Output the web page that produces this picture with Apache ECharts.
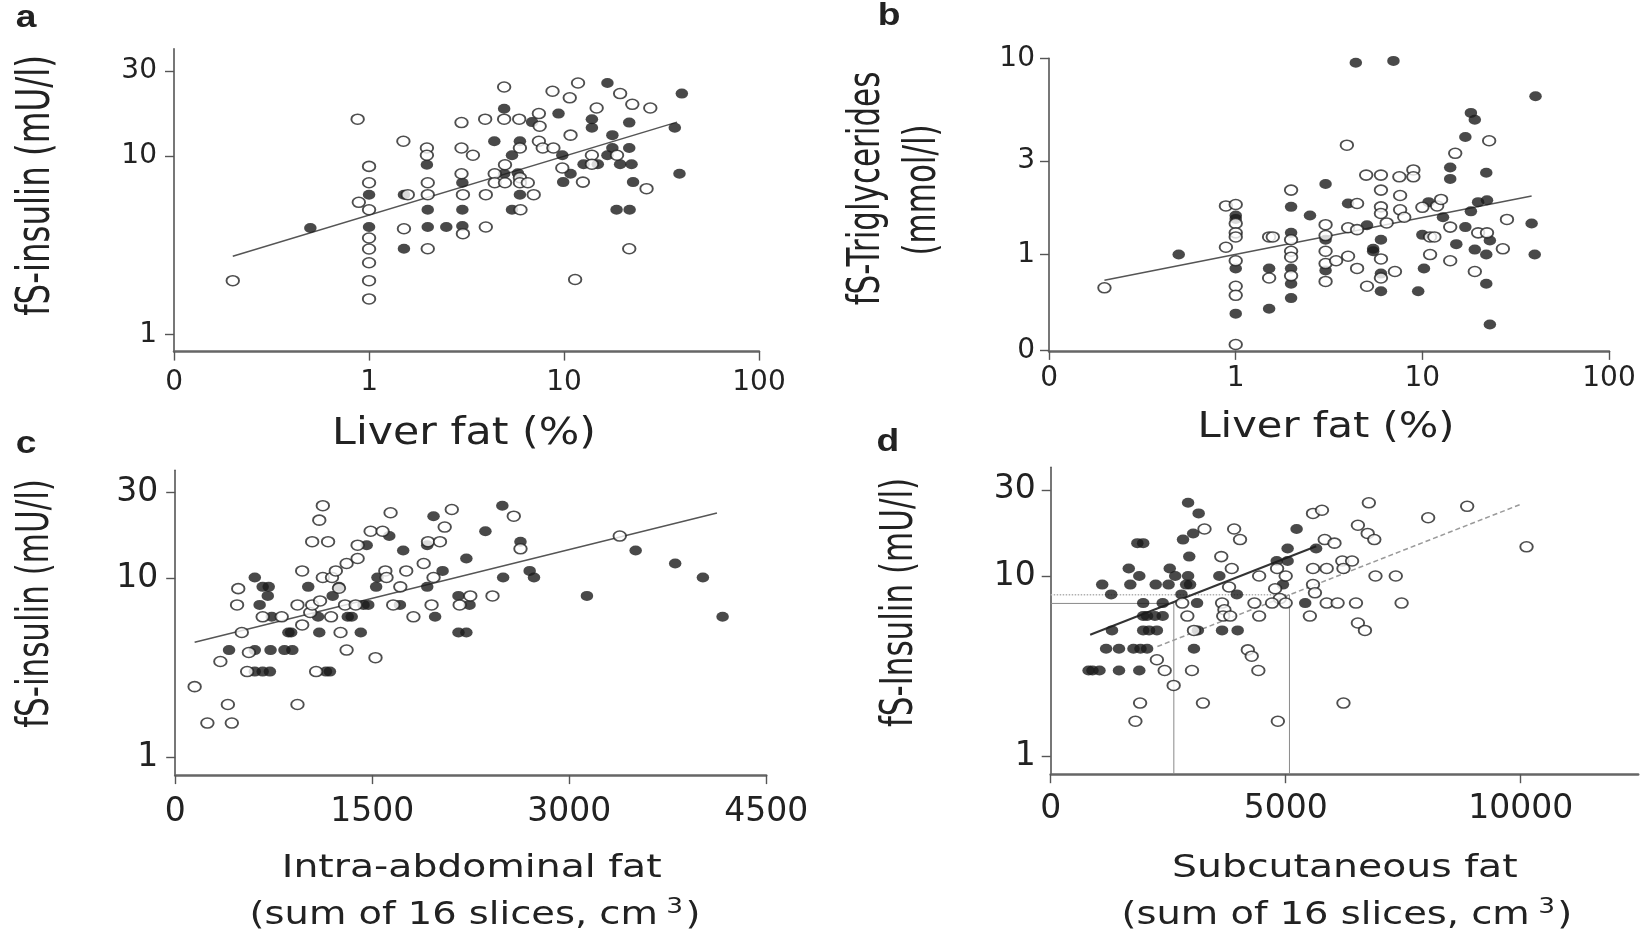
<!DOCTYPE html>
<html><head><meta charset="utf-8">
<script src="https://cdn.jsdelivr.net/npm/echarts@6/dist/echarts.min.js"></script>
<style>html,body{margin:0;padding:0;background:#fff}#c{width:1642px;height:936px}</style>
</head><body><div id="c"></div>
<script>
// ---------- Panel a: liver fat (%) vs fS-insulin (mU/l) ----------
const aXTicks = [0.1, 1, 10, 100], aXLabels = ['0', '1', '10', '100'];
const aYTicks = [1, 10, 30], aYLabels = ['1', '10', '30'];
const aFilled = [[0.5,3.95],[1,6.07],[1,4.0],[1.51,6.07],[1.51,3.02],[1.98,8.94],[2,5.0],[2,4.0],[2.49,4.0],[3.01,7.08],[3.01,5.0],[3.01,4.05],[4.93,18.4],[4.39,12.1],[5.41,10.1],[4.93,7.96],[5.94,12.1],[5.8,8.0],[5.94,6.07],[5.41,5.0],[6.86,15.5],[9.37,17.3],[9.8,10.1],[10.8,7.96],[9.9,7.14],[12.6,9.0],[14.9,9.0],[13.9,16.1],[13.9,14.4],[16.7,25.7],[16.7,10.1],[17.7,13.1],[17.7,11.1],[19.4,9.0],[22.2,9.0],[21.6,15.4],[21.6,11.1],[22.6,7.14],[18.6,5.0],[21.7,5.0],[37,14.4],[40.2,22.4],[39.1,7.96]];
const aOpen = [[0.2,2.0],[0.874,16.1],[1,8.75],[1,7.08],[1,5.0],[0.886,5.5],[1,3.47],[1,3.01],[1,2.52],[1,2.0],[1,1.58],[1.5,12.1],[1.58,6.07],[1.51,3.91],[1.98,11.1],[1.98,10.1],[2,7.08],[2,6.07],[2,3.02],[2.98,15.4],[2.98,11.1],[3.41,10.1],[2.98,7.96],[3.03,6.07],[3.03,3.67],[3.94,16.1],[3.97,6.07],[3.97,4.0],[4.93,24.4],[4.93,16.1],[4.98,8.94],[4.41,7.96],[4.41,7.08],[4.98,7.08],[5.89,16.1],[5.94,11.1],[5.94,7.56],[5.94,7.08],[6.52,7.08],[6.99,6.07],[5.98,5.0],[7.43,17.3],[7.5,14.7],[7.43,12.1],[7.78,11.1],[8.82,11.1],[8.73,23.1],[10.7,21.2],[11.8,25.7],[10.8,13.1],[9.8,8.57],[12.5,7.14],[13.9,10.1],[13.9,9.0],[14.7,18.6],[18.7,10.1],[19.4,22.4],[22.4,19.5],[27.7,18.6],[26.5,6.56],[21.6,3.02],[11.4,2.03]];
const aFit = [[0.2,2.74],[38,15.5]];

// ---------- Panel b: liver fat (%) vs fS-triglycerides (mmol/l) ----------
const bXTicks = [0.1, 1, 10, 100], bXLabels = ['0', '1', '10', '100'];
const bYTicks = [0.325, 1, 3, 10], bYLabels = ['0', '1', '3', '10'];
const bFilled = [[0.495,1.0],[1,1.58],[1,1.52],[1,0.85],[1,0.50],[1.51,0.85],[1.51,0.53],[1.98,1.75],[1.98,1.29],[1.98,0.85],[1.98,0.71],[1.98,0.60],[2.5,1.58],[3.03,2.29],[3.03,1.19],[3.03,0.83],[4.0,1.82],[5.05,1.41],[5.45,1.07],[5.45,1.04],[6.0,1.19],[6.0,0.80],[6.0,0.65],[4.4,9.5],[7.0,9.7],[9.5,0.65],[10.2,0.85],[10,1.26],[10.8,1.85],[12.9,1.55],[14.1,2.78],[14.1,2.43],[15.2,1.13],[17,1.38],[17,3.97],[18.2,5.27],[19.1,4.86],[18.2,1.66],[19.1,1.06],[19.9,1.85],[22,2.61],[22.2,1.89],[22,1.0],[22,0.71],[23,1.18],[23,0.44],[38.5,1.44],[40,1.0],[40.4,6.41]];
const bOpen = [[0.198,0.677],[0.886,1.77],[1,1.80],[1,1.44],[1,1.29],[1,1.23],[0.886,1.09],[1,0.93],[1,0.69],[1,0.62],[1,0.348],[1.51,1.23],[1.58,1.23],[1.51,0.76],[1.98,2.13],[1.98,1.19],[1.98,1.04],[1.98,0.97],[1.98,0.78],[3.03,1.42],[3.03,1.25],[3.03,1.04],[3.03,0.90],[3.03,0.73],[3.45,0.93],[3.94,3.61],[4.0,1.37],[4.0,0.98],[4.47,1.82],[4.47,1.34],[4.47,0.85],[5.0,2.54],[5.05,0.69],[6.0,2.54],[6.0,2.13],[6.0,1.75],[6.0,1.62],[6.44,1.45],[6.0,0.95],[6.0,0.76],[7.13,0.82],[7.53,2.49],[7.6,2.0],[7.6,1.69],[8.0,1.55],[8.95,2.70],[8.95,2.49],[10,1.74],[11,1.23],[11.6,1.23],[11,1.0],[12,1.77],[12.6,1.91],[14.1,1.38],[14.1,0.93],[15,3.28],[19.1,0.82],[19.9,1.29],[22.2,1.29],[22.8,3.80],[27,1.07],[28.4,1.51]];
const bFit = [[0.198,0.74],[38.5,1.99]];

// ---------- Panel c: intra-abdominal fat vs fS-insulin ----------
const cXTicks = [0, 1500, 3000, 4500], cXLabels = ['0', '1500', '3000', '4500'];
const cYTicks = [1, 10, 30], cYLabels = ['1', '10', '30'];
const cFilled = [[410,3.98],[606,10.1],[666,8.96],[712,8.96],[705,7.98],[643,7.11],[606,3.98],[726,3.98],[832,3.98],[892,3.98],[606,3.02],[666,3.02],[721,3.02],[735,6.1],[862,4.99],[883,4.99],[1013,8.96],[1088,6.1],[1097,4.99],[1148,3.02],[1178,3.02],[1199,7.98],[1247,8.96],[1314,6.1],[1344,6.1],[1413,4.99],[1458,15.3],[1434,7.11],[1470,7.11],[1530,8.96],[1540,10.1],[1630,17.2],[1711,7.11],[1736,14.3],[1919,15.3],[1919,8.96],[1979,6.1],[1967,22.2],[2036,11.0],[2157,7.98],[2157,4.99],[2217,4.99],[2217,12.9],[2241,7.11],[2362,18.3],[2491,25.4],[2497,10.1],[2629,16.0],[2699,11.0],[2732,10.1],[3135,7.98],[3506,14.3],[3807,12.1],[4018,10.1],[4168,6.11]];
const cOpen = [[148,2.49],[245,1.56],[401,1.98],[431,1.56],[344,3.44],[480,8.76],[471,7.11],[507,4.99],[561,3.86],[548,3.02],[666,6.1],[811,6.1],[931,7.11],[967,11.0],[967,5.5],[1028,6.45],[1043,7.11],[1097,21.1],[1124,25.4],[1103,7.48],[1124,10.1],[1043,16.0],[1164,16.0],[1194,10.1],[1223,11.0],[1247,8.8],[1187,6.1],[1073,3.02],[931,1.98],[1259,4.99],[1305,3.98],[1305,12.1],[1293,7.11],[1374,7.11],[1389,15.3],[1389,12.9],[1488,18.3],[1579,18.3],[1640,23.2],[1525,3.61],[1600,11.0],[1609,10.1],[1660,7.11],[1714,8.96],[1759,11.0],[1814,6.1],[1892,12.1],[1925,16.0],[2016,16.0],[2052,19.3],[2106,24.2],[1952,7.11],[1967,10.1],[2166,7.11],[2247,7.98],[2416,7.98],[2578,22.2],[2629,14.6],[3385,17.2]];
const cFit = [[148,4.4],[4125,23.1]];

// ---------- Panel d: subcutaneous fat vs fS-insulin ----------
const dXTicks = [0, 5000, 10000], dXLabels = ['0', '5000', '10000'];
const dYTicks = [1, 10, 30], dYLabels = ['1', '10', '30'];
const dFilled = [[806,3.0],[889,3.0],[1038,3.0],[1453,3.0],[1885,3.0],[1179,3.96],[1453,3.96],[1761,3.96],[1910,3.96],[2051,3.96],[1304,5.0],[1968,5.0],[2093,5.0],[2259,5.0],[1968,6.0],[2051,6.0],[2217,6.0],[2383,6.0],[1968,7.08],[2383,7.08],[1096,8.96],[1287,7.91],[1694,8.96],[2234,8.96],[2508,8.96],[1661,11.0],[1885,10.0],[2533,11.0],[2649,10.0],[2923,10.0],[2882,8.96],[2965,8.96],[2782,7.91],[1844,15.2],[1968,15.2],[2815,15.9],[3031,17.2],[2948,12.8],[2923,25.4],[3148,22.2],[3114,7.08],[3131,5.0],[3048,3.96],[3588,10.0],[3961,7.91],[3646,5.0],[3978,5.0],[4809,12.1],[5041,12.1],[5041,14.2],[5232,18.2],[4941,8.96],[5415,7.08],[5647,14.2]];
const dOpen = [[3272,18.2],[3903,18.2],[4028,15.9],[3629,12.8],[3853,11.0],[3795,8.69],[4435,10.0],[4775,8.5],[4817,11.0],[5000,10.0],[4875,7.5],[5000,7.08],[4709,7.08],[4335,7.08],[3646,7.08],[3696,6.5],[3671,6.0],[3820,6.0],[2799,7.08],[2907,6.0],[3048,5.0],[4435,6.0],[5581,22.2],[5772,23.1],[5830,15.9],[6038,15.2],[5581,11.0],[5872,11.0],[5581,8.96],[5622,8.07],[5514,6.0],[5872,7.08],[6104,7.08],[6204,12.1],[6412,12.1],[6229,11.0],[6536,19.1],[6744,17.2],[6885,15.9],[6769,25.4],[6910,10.0],[7342,10.0],[6495,7.08],[6536,5.49],[6686,5.0],[7466,7.08],[8031,21.0],[8861,24.3],[10124,14.5],[2259,3.44],[2425,3.0],[2616,2.48],[3006,3.0],[1902,1.98],[1802,1.57],[3239,1.98],[4194,3.9],[4277,3.6],[4418,3.0],[6229,1.98],[4833,1.57]];
const dFitFilled = [[840,4.73],[5650,14.6]];
const dFitOpen = [[2270,4.07],[10030,25.1]];
const dRefFilled = [[0,7.05],[2620,7.05],[2620,0.8]];
const dRefOpenH = [[0,7.88],[5080,7.88]];
const dRefOpenV = [[5080,7.88],[5080,0.8]];

// ---------- helpers ----------
const FONT = 'DejaVu Sans';
function fmtLog(ticks, labels) {
  return function (v) {
    for (let i = 0; i < ticks.length; i++) {
      if (Math.abs(Math.log10(ticks[i]) - Math.log10(v)) < 0.01) return labels[i];
    }
    return '';
  };
}
function fmtLin(ticks, labels) {
  return function (v) {
    for (let i = 0; i < ticks.length; i++) {
      if (Math.abs(ticks[i] - v) < 1e-6) return labels[i];
    }
    return '';
  };
}
function axis(grid, type, min, max, ticks, labels, fs, margin, isX) {
  return {
    type: type, gridIndex: grid, min: min, max: max, logBase: 10,
    axisLine: { show: true, onZero: false, lineStyle: { color: isX ? '#666' : '#555', width: isX ? 2.5 : 1.6 } },
    axisTick: { show: true, inside: false, length: 9, customValues: ticks, lineStyle: { color: '#555', width: 1.4 } },
    axisLabel: { show: true, customValues: ticks, formatter: type === 'log' ? fmtLog(ticks, labels) : fmtLin(ticks, labels),
      fontSize: fs, fontFamily: FONT, color: '#222', margin: margin },
    splitLine: { show: false }, minorTick: { show: false }, minorSplitLine: { show: false }
  };
}
const SYM = [12.5, 10];
function filled(i, data) {
  return { type: 'scatter', xAxisIndex: i, yAxisIndex: i, data: data, symbol: 'circle', symbolSize: SYM,
    itemStyle: { color: '#1c1c1c' }, z: 3, silent: true };
}
function open(i, data) {
  return { type: 'scatter', xAxisIndex: i, yAxisIndex: i, data: data, symbol: 'circle', symbolSize: SYM,
    itemStyle: { color: '#ffffff', borderColor: '#222', borderWidth: 1.7 }, z: 4, silent: true };
}
function line(i, data, color, width, type) {
  return { type: 'line', xAxisIndex: i, yAxisIndex: i, data: data, symbol: 'none', showSymbol: false,
    lineStyle: { color: color, width: width, type: type || 'solid' }, z: 2, silent: true };
}
function txt(text, x, y, size, o) {
  o = o || {};
  const st = { text: text, fontSize: size, fontFamily: o.family || FONT, fontWeight: o.bold ? 'bold' : 'normal',
    fill: '#222', align: o.align || 'center', verticalAlign: 'middle',
    textAlign: o.align || 'center', textVerticalAlign: 'middle' };
  if (o.rich) st.rich = o.rich;
  return { type: 'text', x: x, y: y, rotation: o.rot || 0, scaleX: o.sx || 1, scaleY: o.sy || 1,
    style: st, silent: true, z: 10 };
}
const supRich = { sup: { fontSize: 22, fontFamily: FONT, fill: '#222', padding: [0, 2, 17, 7] } };
const R = Math.PI / 2;

const option = {
  animation: false,
  backgroundColor: '#ffffff',
  textStyle: { fontFamily: FONT },
  grid: [
    { left: 174, top: 48.7, width: 585, height: 302.9, containLabel: false, outerBoundsMode: 'none' },
    { left: 1049, top: 58.3, width: 560, height: 292.6, containLabel: false, outerBoundsMode: 'none' },
    { left: 175.2, top: 470.3, width: 591, height: 304.8, containLabel: false, outerBoundsMode: 'none' },
    { left: 1050.7, top: 467.2, width: 587.5, height: 307, containLabel: false, outerBoundsMode: 'none' }
  ],
  xAxis: [
    axis(0, 'log', 0.0999, 100.01, aXTicks, aXLabels, 28, 17, true),
    axis(1, 'log', 0.0999, 100.01, bXTicks, bXLabels, 28, 14, true),
    axis(2, 'value', 0, 4500, cXTicks, cXLabels, 33, 21, true),
    axis(3, 'value', 0, 12500, dXTicks, dXLabels, 33, 18.5, true)
  ],
  yAxis: [
    axis(0, 'log', 0.8, 40, aYTicks, aYLabels, 28, 17, false),
    axis(1, 'log', 0.323, 10.001, bYTicks, bYLabels, 28, 14, false),
    axis(2, 'log', 0.8, 40, cYTicks, cYLabels, 33, 17, false),
    axis(3, 'log', 0.8, 40, dYTicks, dYLabels, 33, 15, false)
  ],
  series: [
    line(0, aFit, '#555', 1.5), filled(0, aFilled), open(0, aOpen),
    line(1, bFit, '#555', 1.5), filled(1, bFilled), open(1, bOpen),
    line(2, cFit, '#555', 1.5), filled(2, cFilled), open(2, cOpen),
    line(3, dRefFilled, '#8a8a8a', 1), line(3, dRefOpenH, '#b0b0b0', 1.5, 'dotted'), line(3, dRefOpenV, '#8a8a8a', 1),
    line(3, dFitFilled, '#333', 2), line(3, dFitOpen, '#9a9a9a', 1.5, [5, 3]),
    filled(3, dFilled), open(3, dOpen)
  ],
  graphic: [
    txt('a', 15.7, 18.9, 31, { family: 'Liberation Sans', bold: true, align: 'left', sx: 1.2 }),
    txt('b', 877.7, 16.3, 31, { family: 'Liberation Sans', bold: true, align: 'left', sx: 1.2 }),
    txt('c', 15.7, 444.6, 31, { family: 'Liberation Sans', bold: true, align: 'left', sx: 1.2 }),
    txt('d', 876.6, 442.9, 31, { family: 'Liberation Sans', bold: true, align: 'left', sx: 1.2 }),
    txt('fS-insulin (mU/l)', 37.5, 185.5, 32.5, { rot: R, sy: 1.42 }),
    txt('fS-Triglycerides', 867.4, 188.5, 31, { rot: R, sy: 1.45 }),
    txt('(mmol/l)', 923.2, 190, 31, { rot: R, sy: 1.45 }),
    txt('fS-insulin (mU/l)', 36.6, 603.5, 31, { rot: R, sy: 1.45 }),
    txt('fS-Insulin (mU/l)', 900, 602.5, 31, { rot: R, sy: 1.45 }),
    txt('Liver fat (%)', 464, 434.1, 36.5, { sx: 1.17 }),
    txt('Liver fat (%)', 1326, 427.9, 35, { sx: 1.19 }),
    txt('Intra-abdominal fat', 471.7, 868.9, 32, { sx: 1.23 }),
    txt('(sum of 16 slices, cm{sup|3})', 475, 915.6, 32, { sx: 1.2, rich: supRich }),
    txt('Subcutaneous fat', 1344.8, 868.9, 32, { sx: 1.23 }),
    txt('(sum of 16 slices, cm{sup|3})', 1346.9, 915.6, 32, { sx: 1.2, rich: supRich })
  ]
};
const chart = echarts.init(document.getElementById('c'), null, { renderer: 'canvas' });
chart.setOption(option);
</script></body></html>
